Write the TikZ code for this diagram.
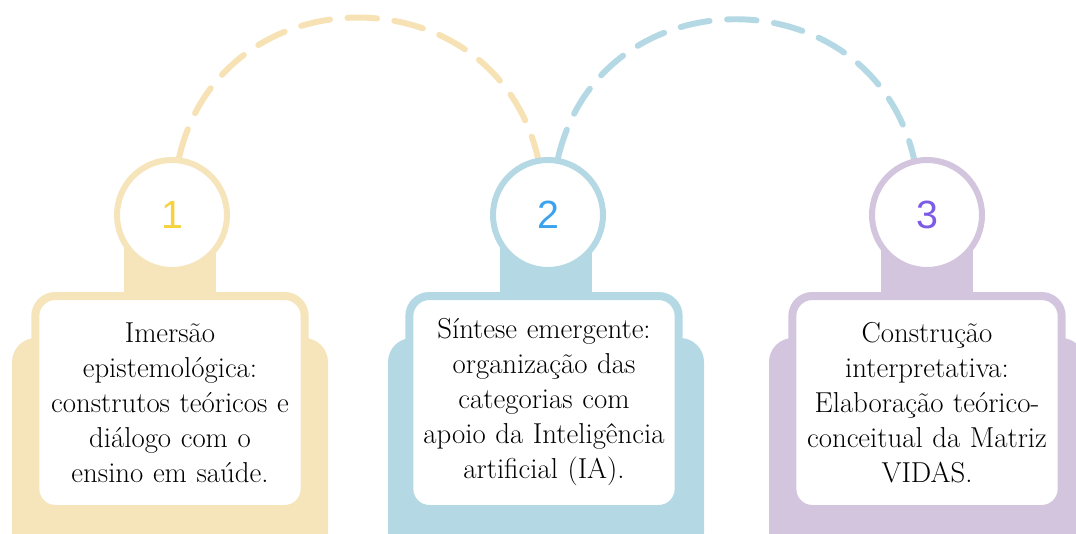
\documentclass[tikz,border=0pt]{standalone}
\usepackage{fontspec}
\setsansfont{Liberation Sans}
\usetikzlibrary{calc,backgrounds}
\definecolor{ylight}{HTML}{F6E5BB}
\definecolor{ynum}{HTML}{F5D33F}
\definecolor{blight}{HTML}{B4D9E4}
\definecolor{bnum}{HTML}{3BA3EE}
\definecolor{plight}{HTML}{D3C5DE}
\definecolor{pnum}{HTML}{7C5BE6}

\begin{document}
\begin{tikzpicture}[font=\fontsize{20.5}{24.9}\selectfont,
  back/.style={fill=#1,rounded corners=0.6cm},
  neck/.style={fill=#1},
  bubble/.style={circle,draw=#1,line width=0.15cm,fill=white,minimum size=2.75cm,
    font=\sffamily\fontsize{28}{28}\selectfont},
  card/.style={rectangle,draw=#1,line width=0.2cm,fill=white,rounded corners=0.5cm,
    minimum width=6.7cm,minimum height=5.325cm,text width=6.5cm,align=center},
  link/.style={draw=#1,line width=4.25pt,line cap=round,dash pattern=on 21pt off 12.5pt}]
\useasboundingbox (0,0) rectangle (26.9,13.325);

\coordinate (p1) at (4.25,0);
\coordinate (p2) at (13.65,0);
\coordinate (p3) at (23.175,0);

% panel backs
\fill[back=ylight] ($(p1)+(-3.95,-0.6)$) rectangle ($(p1)+(3.95,4.875)$);
\fill[back=blight] ($(p2)+(-3.95,-0.6)$) rectangle ($(p2)+(3.95,4.875)$);
\fill[back=plight] ($(p3)+(-3.95,-0.6)$) rectangle ($(p3)+(3.95,4.875)$);

\fill[neck=ylight] ($(p1)+(-1.15,5.5)$) rectangle ($(p1)+(1.15,7.3)$);
\fill[neck=blight] ($(p2)+(-1.15,5.5)$) rectangle ($(p2)+(1.15,7.3)$);
\fill[neck=plight] ($(p3)+(-1.15,5.5)$) rectangle ($(p3)+(1.15,7.3)$);

\node[bubble=ylight,text=ynum] (c1) at ($(p1)+(0.05,7.95)$) {1};
\node[bubble=blight,text=bnum] (c2) at ($(p2)+(0.05,7.95)$) {2};
\node[bubble=plight,text=pnum] (c3) at ($(p3)+(0,7.95)$) {3};

\node[card=ylight] (b1) at ($(p1)+(0,3.2625)$) {Imersão\\ epistemológica:\\ construtos teóricos e\\ diálogo com o\\ ensino em saúde.};
\node[card=blight] (b2) at ($(p2)+(-0.05,3.2625)$) {Síntese emergente:\\ organização das\\ categorias com\\ apoio da Inteligência\\ artificial (IA).};
\node[card=plight] (b3) at ($(p3)+(0,3.2625)$) {Construção\\ interpretativa:\\ Elaboração teórico-\\ conceitual da Matriz\\ VIDAS.};

% dashed links between the bubbles
\begin{scope}[on background layer]
\draw[link=ylight!97!orange] (c1.83) to[out=77,in=103,looseness=1.37] (c2.100);
\draw[link=blight] (c2.80) to[out=77,in=103,looseness=1.37] (c3.103);
\end{scope}

\end{tikzpicture}
\end{document}
